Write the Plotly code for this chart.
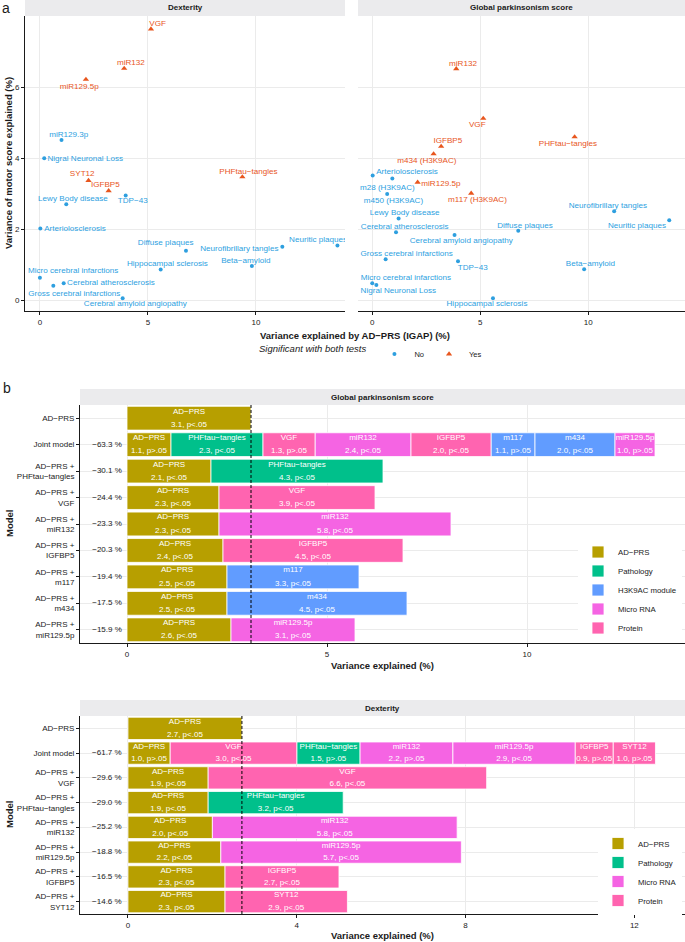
import numpy as np
import plotly.graph_objects as go

W, H = 685, 942
FONT = "Liberation Sans"
BLUE = "#2E9FDF"
ORANGE = "#E8561E"
GRID = "#EBEBEB"
STRIP = "#EBEBED"
INK = "#1A1A1A"

# ---------------- panel a : variance explained (scatter) ----------------
dex_labels = ["VGF", "miR132", "miR129.5p", "miR129.3p", "Nigral Neuronal Loss", "SYT12", "IGFBP5",
              "TDP−43", "Lewy Body disease", "PHFtau−tangles", "Arteriolosclerosis", "Diffuse plaques",
              "Neurofibrillary tangles", "Neuritic plaques", "Beta−amyloid", "Hippocampal sclerosis",
              "Micro cerebral infarctions", "Gross cerebral infarctions", "Cerebral atherosclerosis",
              "Cerebral amyloid angiopathy"]
dex_x = [5.14, 3.90, 2.13, 1.00, 0.20, 2.25, 3.18, 3.97, 1.22, 9.37, 0.02, 6.76,
         11.22, 13.77, 9.81, 5.59, 0.00, 0.62, 1.10, 3.83]
dex_y = [7.64, 6.53, 6.22, 4.51, 4.00, 3.37, 3.08, 2.95, 2.70, 3.47, 2.02, 1.39,
         1.50, 1.54, 0.96, 0.86, 0.63, 0.40, 0.47, 0.05]
dex_sig = ["Yes", "Yes", "Yes", "No", "No", "Yes", "Yes", "No", "No", "Yes", "No", "No",
           "No", "No", "No", "No", "No", "No", "No", "No"]

gps_labels = ["miR132", "VGF", "PHFtau−tangles", "IGFBP5", "m434 (H3K9AC)", "Arteriolosclerosis",
              "m28 (H3K9AC)", "miR129.5p", "m117 (H3K9AC)", "m450 (H3K9AC)", "Lewy Body disease",
              "Neurofibrillary tangles", "Neuritic plaques", "Cerebral atherosclerosis", "Diffuse plaques",
              "Cerebral amyloid angiopathy", "Gross cerebral infarctions", "TDP−43", "Beta−amyloid",
              "Micro cerebral infarctions", "Nigral Neuronal Loss", "Hippocampal sclerosis"]
gps_x = [3.89, 5.14, 9.37, 3.19, 2.84, 0.02, 0.93, 2.10, 4.58, 0.69, 1.22,
         11.20, 13.75, 1.10, 6.76, 3.81, 0.62, 3.97, 9.81, 0.00, 0.19, 5.59]
gps_y = [6.52, 5.12, 4.60, 4.33, 4.12, 3.51, 3.43, 3.32, 3.01, 2.99, 2.30,
         2.50, 2.25, 1.91, 1.95, 1.83, 1.15, 1.09, 0.87, 0.47, 0.42, 0.05]
gps_sig = ["Yes", "Yes", "Yes", "Yes", "Yes", "No", "No", "Yes", "Yes", "No", "No",
           "No", "No", "No", "No", "No", "No", "No", "No", "No", "No", "No"]

# label nudges (pixels, right / down) - like ggrepel
dex_nudge = [(6.7, -5.3), (6.7, -5), (-6.7, 8), (7.3, -5), (41, 0.7), (-6.3, -6.3), (-3.3, -5.7),
             (7, 5.7), (6.7, -5.3), (6, -4.7), (34.7, 0.7), (-20.3, -7.3), (-43, 2.3), (-19.3, -5.3),
             (-6, -5.3), (6.7, -5.3), (33.3, -7), (21, 7.7), (47.3, -0.7), (12.7, 6)]
gps_nudge = [(6.7, -5.3), (-6, 6.7), (-6.7, 7), (6.7, -5.3), (-6.7, 7), (34.3, -3.7), (-5, 10),
             (23.3, 1.3), (6.3, 6.7), (6.3, 7), (6, -5.7), (-6.3, -5.7), (-32.3, 5.3), (8.7, -5.3),
             (6.7, -5.3), (6.7, 6), (21, -5.3), (14.7, 6.3), (6.3, -5.3), (33.7, -5.7), (22, 6), (-6, 6)]

# ---------------- panel b : stacked variance explained ----------------
group_order = ["AD−PRS", "Pathology", "H3K9AC module", "Micro RNA", "Protein"]
group_colors = {"AD−PRS": "#B79F00", "Pathology": "#00C08B", "H3K9AC module": "#619CFF",
                "Micro RNA": "#F564E3", "Protein": "#FF64B0"}
term_group = {"AD−PRS": "AD−PRS", "PHFtau−tangles": "Pathology", "VGF": "Protein", "miR132": "Micro RNA",
              "IGFBP5": "Protein", "m117": "H3K9AC module", "m434": "H3K9AC module",
              "miR129.5p": "Micro RNA", "SYT12": "Protein"}

gps_models = ["AD−PRS", "Joint model", "AD−PRS +<br>PHFtau−tangles", "AD−PRS +<br>VGF", "AD−PRS +<br>miR132",
              "AD−PRS +<br>IGFBP5", "AD−PRS +<br>m117", "AD−PRS +<br>m434", "AD−PRS +<br>miR129.5p"]
gps_terms = [["AD−PRS"],
             ["AD−PRS", "PHFtau−tangles", "VGF", "miR132", "IGFBP5", "m117", "m434", "miR129.5p"],
             ["AD−PRS", "PHFtau−tangles"], ["AD−PRS", "VGF"], ["AD−PRS", "miR132"], ["AD−PRS", "IGFBP5"],
             ["AD−PRS", "m117"], ["AD−PRS", "m434"], ["AD−PRS", "miR129.5p"]]
gps_values = [[3.1], [1.1, 2.3, 1.3, 2.4, 2.0, 1.1, 2.0, 1.0], [2.1, 4.3], [2.3, 3.9], [2.3, 5.8],
              [2.4, 4.5], [2.5, 3.3], [2.5, 4.5], [2.6, 3.1]]
gps_signif = [[True], [False, True, False, True, True, False, True, False], [True, True], [True, True],
              [True, True], [True, True], [True, True], [True, True], [True, True]]
gps_change = [None, -63.3, -30.1, -24.4, -23.3, -20.3, -19.4, -17.5, -15.9]

dex_models = ["AD−PRS", "Joint model", "AD−PRS +<br>VGF", "AD−PRS +<br>PHFtau−tangles", "AD−PRS +<br>miR132",
              "AD−PRS +<br>miR129.5p", "AD−PRS +<br>IGFBP5", "AD−PRS +<br>SYT12"]
dex_terms = [["AD−PRS"],
             ["AD−PRS", "VGF", "PHFtau−tangles", "miR132", "miR129.5p", "IGFBP5", "SYT12"],
             ["AD−PRS", "VGF"], ["AD−PRS", "PHFtau−tangles"], ["AD−PRS", "miR132"], ["AD−PRS", "miR129.5p"],
             ["AD−PRS", "IGFBP5"], ["AD−PRS", "SYT12"]]
dex_values = [[2.7], [1.0, 3.0, 1.5, 2.2, 2.9, 0.9, 1.0], [1.9, 6.6], [1.9, 3.2], [2.0, 5.8], [2.2, 5.7],
              [2.3, 2.7], [2.3, 2.9]]
dex_signif = [[True], [False, True, False, False, True, False, False], [True, True], [True, True],
              [True, True], [True, True], [True, True], [True, True]]
dex_change = [None, -61.7, -29.6, -29.0, -25.2, -18.8, -16.5, -14.6]

# ---------------- layout geometry (pixels) ----------------
SC_XL, SC_XR, SC_Y = (25, 345), (358, 685), (16, 311)
SC_RL, SC_RR, SC_RY = [-0.69, 14.12], [-0.66, 14.48], [-0.31, 8.01]
B1_X, B1_Y, B1_R = (80, 685), (405, 643), [-1.175, 13.95]
B2_X, B2_Y, B2_R = (80, 685), (716, 914), [-1.137, 13.2]


def dx(p):
    return [p[0] / W, p[1] / W]


def dy(p):
    return [1 - p[1] / H, 1 - p[0] / H]


fig = go.Figure()


def add_scatter(labels, xs, ys, sig, nudges, xa, ya, xdom, xrng, show_legend):
    sx = (xdom[1] - xdom[0]) / (xrng[1] - xrng[0])
    sy = (SC_Y[1] - SC_Y[0]) / (SC_RY[1] - SC_RY[0])
    xs, ys, sig = np.array(xs), np.array(ys), np.array(sig)
    for level, color, symbol, size in [("No", BLUE, "circle", 4), ("Yes", ORANGE, "triangle-up", 5.5)]:
        m = sig == level
        fig.add_trace(go.Scatter(x=xs[m], y=ys[m], mode="markers", name=level,
                                 marker=dict(color=color, symbol=symbol, size=size),
                                 xaxis=xa, yaxis=ya, showlegend=show_legend, legend="legend"))
    ox = np.array([n[0] for n in nudges]) / sx
    oy = -np.array([n[1] for n in nudges]) / sy
    colors = [ORANGE if s == "Yes" else BLUE for s in sig]
    fig.add_trace(go.Scatter(x=xs + ox, y=ys + oy, mode="text", text=labels,
                             textfont=dict(size=8.1, color=colors), xaxis=xa, yaxis=ya,
                             showlegend=False, hoverinfo="skip"))


add_scatter(dex_labels, dex_x, dex_y, dex_sig, dex_nudge, "x", "y", SC_XL, SC_RL, True)
add_scatter(gps_labels, gps_x, gps_y, gps_sig, gps_nudge, "x2", "y2", SC_XR, SC_RR, False)


def add_bars(terms, values, signif, change, xa, ya, legend_name):
    rows, starts, widths, names, stats, groups = [], [], [], [], [], []
    for i, (t, v, s) in enumerate(zip(terms, values, signif)):
        base = np.concatenate([[0], np.cumsum(v)[:-1]])
        for name, val, b, sg in zip(t, v, base, s):
            rows.append(i)
            starts.append(b)
            widths.append(val)
            names.append(name)
            stats.append(f"{val:.1f}, p{'<' if sg else '>'}.05")
            groups.append(term_group[name])
    for g in group_order:
        idx = [k for k, gg in enumerate(groups) if gg == g]
        if not idx:
            continue
        fig.add_trace(go.Bar(orientation="h", x=[widths[k] for k in idx], base=[starts[k] for k in idx],
                             y=[rows[k] for k in idx], width=0.9, name=g,
                             marker=dict(color=group_colors[g], line=dict(color="white", width=0.8)),
                             xaxis=xa, yaxis=ya, legend=legend_name, hoverinfo="skip"))
    mids = np.array(starts) + np.array(widths) / 2
    rows = np.array(rows)
    for off, txt in [(-0.25, names), (0.25, stats)]:
        fig.add_trace(go.Scatter(x=mids, y=rows + off, mode="text", text=txt,
                                 textfont=dict(size=8, color="white"), xaxis=xa, yaxis=ya,
                                 showlegend=False, hoverinfo="skip", cliponaxis=False))
    ci = [i for i, c in enumerate(change) if c is not None]
    fig.add_trace(go.Scatter(x=[-0.5] * len(ci), y=ci, mode="text",
                             text=[f"{change[i]:.1f} %".replace("-", "−") for i in ci],
                             textfont=dict(size=8, color=INK), xaxis=xa, yaxis=ya,
                             showlegend=False, hoverinfo="skip"))


add_bars(gps_terms, gps_values, gps_signif, gps_change, "x3", "y3", "legend2")
add_bars(dex_terms, dex_values, dex_signif, dex_change, "x4", "y4", "legend3")

tickfont = dict(size=8, color="#222")
common = dict(showgrid=True, gridcolor=GRID, gridwidth=0.8, zeroline=False, linecolor=INK,
              linewidth=1, tickcolor=INK, ticklen=3, tickfont=tickfont, automargin=False)

fig.update_layout(
    xaxis=dict(domain=dx(SC_XL), range=SC_RL, tickvals=[0, 5, 10], showline=True, ticks="outside",
               ticklabeloverflow="allow", anchor="y", **common),
    xaxis2=dict(domain=dx(SC_XR), range=SC_RR, tickvals=[0, 5, 10], showline=True, ticks="outside",
                ticklabeloverflow="allow", anchor="y2", **common),
    yaxis=dict(domain=dy(SC_Y), range=SC_RY, tickvals=[0, 2, 4, 6], showline=True, ticks="outside",
               anchor="x", **common),
    yaxis2=dict(domain=dy(SC_Y), range=SC_RY, tickvals=[0, 2, 4, 6], showline=False, ticks="",
                showticklabels=False, anchor="x2", **common),
    xaxis3=dict(domain=dx(B1_X), range=B1_R, tickvals=[0, 5, 10], showline=True, ticks="outside",
                anchor="y3", **common),
    yaxis3=dict(domain=dy(B1_Y), range=[len(gps_models) - 0.5, -0.5], tickvals=list(range(len(gps_models))),
                ticktext=gps_models, showline=True, ticks="outside", anchor="x3", **common),
    xaxis4=dict(domain=dx(B2_X), range=B2_R, tickvals=[0, 4, 8, 12], showline=True, ticks="outside",
                anchor="y4", **common),
    yaxis4=dict(domain=dy(B2_Y), range=[len(dex_models) - 0.5, -0.5], tickvals=list(range(len(dex_models))),
                ticktext=dex_models, showline=True, ticks="outside", anchor="x4", **common),
    barmode="overlay",
    width=W, height=H, autosize=False,
    margin=dict(l=0, r=0, t=0, b=0),
    paper_bgcolor="white", plot_bgcolor="white",
    font=dict(family=FONT, color=INK, size=8),
    legend=dict(orientation="h", x=372 / W, xanchor="center", y=1 - 354 / H, yanchor="middle",
                title=dict(text="<i>Significant with both tests</i>", side="left", font=dict(size=9.5)),
                font=dict(size=7.5), itemwidth=30, bgcolor="rgba(0,0,0,0)"),
    legend2=dict(x=1 - 3 / W, xanchor="right", y=1 - 590 / H, yanchor="middle", font=dict(size=7.8),
                 bgcolor="white", traceorder="normal"),
    legend3=dict(x=1 - 3 / W, xanchor="right", y=1 - 872 / H, yanchor="middle", font=dict(size=7.8),
                 bgcolor="white", traceorder="normal"),
)

# facet strips
strips = [(SC_XL, (0, 16), "Dexterity"), (SC_XR, (0, 16), "Global parkinsonism score"),
          (B1_X, (389, 405), "Global parkinsonism score"), (B2_X, (700, 716), "Dexterity")]
for (x0, x1), (y0, y1), label in strips:
    fig.add_shape(type="rect", xref="paper", yref="paper", x0=x0 / W, x1=x1 / W, y0=1 - y1 / H,
                  y1=1 - y0 / H, fillcolor=STRIP, line=dict(width=0), layer="below")
    fig.add_annotation(xref="paper", yref="paper", x=(x0 + x1) / 2 / W, y=1 - (y0 + y1) / 2 / H,
                       xanchor="center", yanchor="middle",
                       text=f"<b>{label}</b>", showarrow=False, font=dict(size=8, color=INK))

# reference lines: AD-PRS alone
for xa, ya, vals in [("x3", "y3", gps_values), ("x4", "y4", dex_values)]:
    fig.add_shape(type="line", xref=xa, yref=f"{ya} domain", x0=vals[0][0], x1=vals[0][0],
                  y0=0, y1=1, line=dict(color="black", width=1, dash="3px,2px"))

# axis titles and panel letters
titles = [
    (355, 336, "<b>Variance explained by AD−PRS (IGAP) (%)</b>", 0, 9.5),
    (9, 163, "<b>Variance of motor score explained (%)</b>", -90, 9.5),
    (382, 665, "<b>Variance explained (%)</b>", 0, 9.5),
    (382, 935, "<b>Variance explained (%)</b>", 0, 9.5),
    (9, 524, "<b>Model</b>", -90, 9.5),
    (9, 815, "<b>Model</b>", -90, 9.5),
    (6, 8, "a", 0, 14),
    (7, 388, "b", 0, 14),
]
for x, y, text, angle, size in titles:
    fig.add_annotation(xref="paper", yref="paper", x=x / W, y=1 - y / H, text=text, textangle=angle,
                       xanchor="center", yanchor="middle",
                       showarrow=False, font=dict(size=size, color=INK))

fig.write_html("out.html", config={"displayModeBar": False},
               post_script="document.body.style.margin='0';")
